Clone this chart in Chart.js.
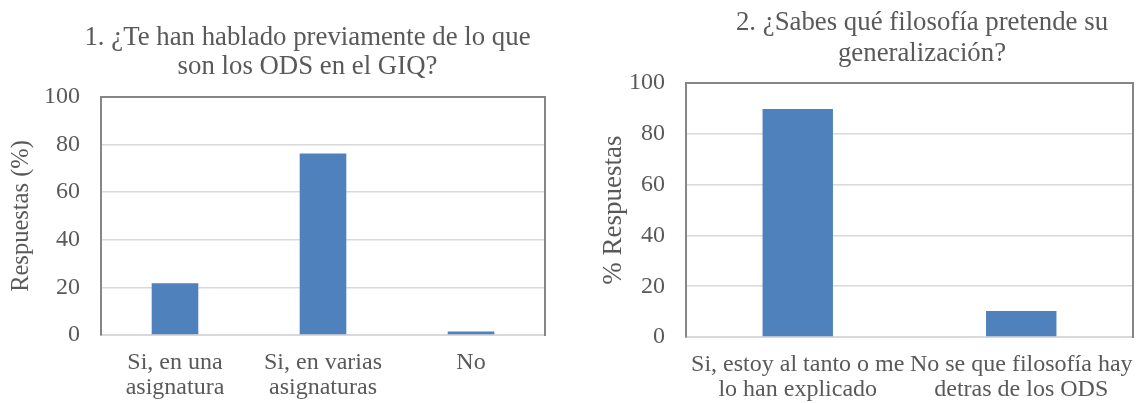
<!DOCTYPE html>
<html>
<head>
<meta charset="utf-8">
<script src="https://cdn.jsdelivr.net/npm/chart.js@4.4.1/dist/chart.umd.min.js"></script>
<style>
  html, body { margin: 0; padding: 0; background: #fff; overflow: hidden; width: 1137px; height: 403px; }
  .box { position: absolute; top: 0; }
</style>
</head>
<body>
<div class="box" style="left:0px"><canvas id="chart1" width="614" height="403"></canvas></div>
<div class="box" style="left:590px"><canvas id="chart2" width="666" height="403"></canvas></div>
<script>
const title1 = ['1. ¿Te han hablado previamente de lo que', 'son los ODS en el GIQ?'];
const labels1 = [['Si, en una', 'asignatura'], ['Si, en varias', 'asignaturas'], 'No'];
const values1 = [21.7, 76.3, 1.5];

const title2 = ['2. ¿Sabes qué filosofía pretende su', 'generalización?'];
const labels2 = [['Si, estoy al tanto o me', 'lo han explicado'], ['No se que filosofía hay', 'detras de los ODS']];
const values2 = [89.8, 10.2];

const yTicks = [0, 20, 40, 60, 80, 100];

const textColor = '#595959';
const barColor = '#4F81BD';
const frameColor = '#868686';
const gridColor = '#D9D9D9';
const serif = 'Liberation Serif, Times New Roman, serif';

function makeChart(id, cfg) {
    const ctx = document.getElementById(id).getContext('2d');
    return new Chart(ctx, {
        type: 'bar',
        data: {
            labels: cfg.labels,
            datasets: [{
                data: cfg.values,
                backgroundColor: barColor,
                borderWidth: 0,
                categoryPercentage: 1,
                barPercentage: 0.315
            }]
        },
        options: {
            responsive: false,
            animation: false,
            layout: { padding: { left: cfg.padLeft, right: cfg.padRight, top: 0, bottom: 0 } },
            plugins: {
                legend: { display: false },
                tooltip: { enabled: false },
                title: {
                    display: true,
                    text: cfg.title,
                    color: textColor,
                    font: { family: serif, size: 26.8, weight: 'normal', lineHeight: cfg.titleLine },
                    padding: { top: cfg.titleTop, bottom: cfg.titleBottom }
                }
            },
            scales: {
                x: {
                    grid: { display: false, drawTicks: false },
                    border: { display: true, color: gridColor, width: 2 },
                    ticks: {
                        color: textColor,
                        font: { family: serif, size: 24, lineHeight: 1.04 },
                        padding: 15,
                        maxRotation: 0,
                        autoSkip: false
                    },
                    afterFit: s => { s.height = cfg.xHeight; }
                },
                y: {
                    min: 0,
                    max: 100,
                    afterBuildTicks: s => { s.ticks = yTicks.map(v => ({ value: v })); },
                    grid: {
                        drawTicks: false,
                        color: c => c.tick && c.tick.value === 100 ? frameColor : gridColor,
                        lineWidth: c => c.tick && c.tick.value === 100 ? 2 : 1.5
                    },
                    border: { display: true, color: frameColor, width: 2 },
                    ticks: {
                        color: textColor,
                        font: { family: serif, size: 24 },
                        padding: 21
                    },
                    title: {
                        display: true,
                        text: cfg.yTitle,
                        color: textColor,
                        font: { family: serif, size: cfg.yTitleSize, lineHeight: 1 },
                        padding: { top: 0, bottom: 0 }
                    },
                    afterFit: s => { s.width = cfg.yWidth; }
                },
                right: {
                    type: 'linear',
                    position: 'right',
                    grid: { display: false, drawTicks: false },
                    ticks: { display: false },
                    border: { display: true, color: frameColor, width: 2 },
                    afterFit: s => { s.width = cfg.rightWidth; }
                }
            }
        }
    });
}

makeChart('chart1', {
    labels: labels1, values: values1, title: title1,
    yTitle: 'Respuestas (%)', yTitleSize: 24.5,
    padLeft: 9, padRight: 8,
    titleLine: 1.1, titleTop: 23, titleBottom: 15,
    xHeight: 68, yWidth: 92, rightWidth: 61
});

makeChart('chart2', {
    labels: labels2, values: values2, title: title2,
    yTitle: '% Respuestas', yTitleSize: 27,
    padLeft: 10, padRight: 12,
    titleLine: 1.16, titleTop: 7, titleBottom: 14,
    xHeight: 66, yWidth: 86, rightWidth: 111
});
</script>
</body>
</html>
